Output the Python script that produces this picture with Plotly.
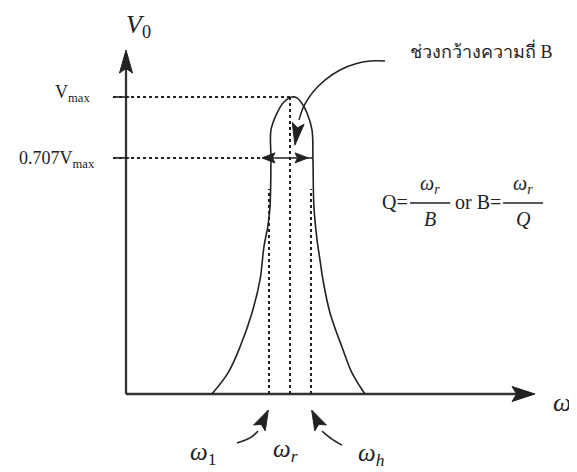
import math
import plotly.graph_objects as go

# resonance curve (omega / omega_r , V0 / Vmax)
omega = [0.524, 0.622, 0.695, 0.768, 0.817, 0.841, 0.866, 0.878, 0.884, 0.884, 0.921, 0.963, 1.012,
         1.043, 1.079, 1.104, 1.134, 1.140, 1.146, 1.165, 1.183, 1.201, 1.244, 1.317, 1.378, 1.457]
v0 = [0.0, 0.071, 0.158, 0.273, 0.384, 0.495, 0.569, 0.630, 0.788, 0.889, 0.946, 0.983, 1.0,
      0.997, 0.973, 0.946, 0.889, 0.788, 0.630, 0.519, 0.451, 0.384, 0.273, 0.158, 0.071, 0.0]

# marked levels on the V0 axis (as drawn) and marked frequencies
level_values = [1.0, 0.795]
level_labels = ["V<sub>max</sub>", "0.707V<sub>max</sub>"]
freq_values = [0.872, 1.0, 1.128]
freq_labels = ["<i>ω</i><sub>1</sub>", "<i>ω<sub>r</sub></i>", "<i>ω<sub>h</sub></i>"]
band_edges = [0.884, 1.140]  # curve width at the 0.707 level

omega_end = 2.494
v_end = 1.158

# pixels per data unit (for arrowhead geometry only)
SX, SY = 164.0, 297.0
# the page body has an 8px margin, so the plot is shifted by that much
PAD = 8
INK = "#222222"
SERIF = "Liberation Serif, Times New Roman, serif"

fig = go.Figure()


def line(xs, ys, width=1.6, dash="solid", color=INK, shape="linear"):
    fig.add_trace(go.Scatter(x=xs, y=ys, mode="lines", hoverinfo="skip",
                             line=dict(color=color, width=width, dash=dash, shape=shape)))


def head(x, y, ux, uy, length, half, notch=0.8):
    # filled arrowhead with tip at (x, y), pointing along (ux, uy) in screen px (y up)
    n = math.hypot(ux, uy)
    ux, uy = ux / n, uy / n
    px, py = -uy, ux
    tx, ty = x * SX, y * SY
    bx, by = tx - ux * length, ty - uy * length
    nx, ny = tx - ux * length * notch, ty - uy * length * notch
    xs = [tx, bx + px * half, nx, bx - px * half, tx]
    ys = [ty, by + py * half, ny, by - py * half, ty]
    fig.add_trace(go.Scatter(x=[v / SX for v in xs], y=[v / SY for v in ys], mode="lines",
                             fill="toself", fillcolor=INK, hoverinfo="skip",
                             line=dict(color=INK, width=1)))


def text(x, y, s, size=18, xanchor="center", yanchor="middle", family=SERIF):
    fig.add_annotation(x=x, y=y, text=s, showarrow=False, xanchor=xanchor, yanchor=yanchor,
                       font=dict(family=family, size=size, color=INK))


# axes
line([0, omega_end - 0.1], [0, 0], width=2.3, color="#333333")
line([0, 0], [0, v_end - 0.05], width=2.3, color="#333333")
head(omega_end, 0, 1, 0, 23, 7.5)
head(0, v_end, 0, 1, 23, 6.5)

# dotted guides
line([-0.079, 1.0], [level_values[0]] * 2, width=2, dash="dot")
line([-0.079, band_edges[0]], [level_values[1]] * 2, width=2, dash="dot")
for lv in level_values:
    line([-0.079, 0.02], [lv, lv], width=1.6)
line([freq_values[1]] * 2, [0, level_values[0]], width=2, dash="dot")
line([freq_values[0]] * 2, [0, 0.69], width=2, dash="dot")
line([freq_values[2]] * 2, [0, 0.69], width=2, dash="dot")

# resonance curve
line(omega, v0, width=1.6, shape="spline")

# bandwidth double arrow
line(band_edges, [level_values[1]] * 2, width=1.5)
head(band_edges[0] - 0.055, level_values[1], -1, 0, 13, 5)
head(band_edges[1] - 0.03, level_values[1], 1, 0, 13, 5)

# leader to the bandwidth label
line([1.579, 1.488, 1.396, 1.305, 1.213, 1.140, 1.085, 1.055],
     [1.121, 1.121, 1.111, 1.091, 1.057, 1.017, 0.970, 0.923], width=1.5, shape="spline")
head(1.030, 0.838, -0.15, -1, 22, 6)

# pointers to omega_1 and omega_h
line([0.677, 0.756, 0.805], [-0.165, -0.148, -0.125], width=1.5, shape="spline")
head(freq_values[0] - 0.004, -0.054, 0.5, 1, 20, 6.5)
line([1.317, 1.256, 1.195], [-0.172, -0.152, -0.125], width=1.5, shape="spline")
head(freq_values[2] + 0.004, -0.054, -0.5, 1, 20, 6.5)

# labels
text(0.079, 1.238, "<i>V</i><sub>0</sub>", size=26)
text(-0.207, 1.012, level_labels[0], size=18, xanchor="right")
text(-0.177, 0.79, level_labels[1], size=18, xanchor="right")
text(2.66, -0.027, "<i>ω</i>", size=26)
text(0.47, -0.200, freq_labels[0], size=25)
text(0.97, -0.190, freq_labels[1], size=25)
text(1.494, -0.205, freq_labels[2], size=25)
text(1.72, 1.158, "ช่วงกว้างความถี่ B", size=18, xanchor="left")

# Q = wr / B  or  B = wr / Q
text(1.732, 0.645, "Q=", size=20, xanchor="right")
line([1.732, 1.976], [0.643, 0.643], width=1.5)
text(1.854, 0.705, "<i>ω</i><sub><i>r</i></sub>", size=20)
text(1.854, 0.588, "<i>B</i>", size=20)
text(2.299, 0.645, "or B=", size=20, xanchor="right")
line([2.299, 2.543], [0.643, 0.643], width=1.5)
text(2.421, 0.705, "<i>ω</i><sub><i>r</i></sub>", size=20)
text(2.421, 0.588, "<i>Q</i>", size=20)

fig.update_layout(
    width=577, height=472, autosize=False,
    margin=dict(l=0, r=0, t=0, b=0),
    paper_bgcolor="white", plot_bgcolor="white",
    showlegend=False,
    xaxis=dict(visible=False, range=[(PAD - 126) / SX, (PAD + 577 - 126) / SX], fixedrange=True),
    yaxis=dict(visible=False, range=[(394 - PAD - 472) / SY, (394 - PAD) / SY], fixedrange=True),
)

fig.write_html("out.html")
